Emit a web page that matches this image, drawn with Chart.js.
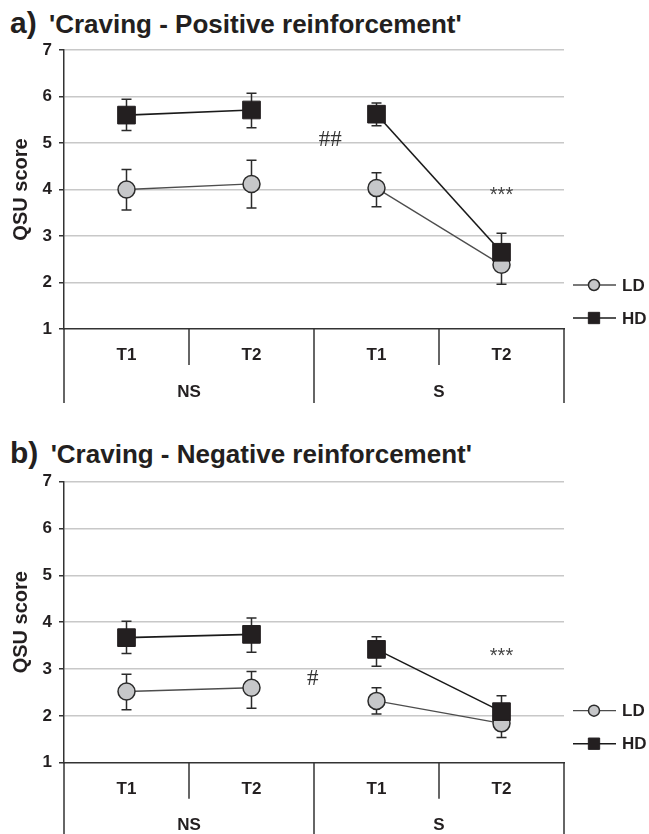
<!DOCTYPE html>
<html>
<head>
<meta charset="utf-8">
<script src="https://cdn.jsdelivr.net/npm/chart.js@4.4.1/dist/chart.umd.min.js"></script>
<style>
  html, body { margin: 0; padding: 0; background: #fff; }
  body { width: 649px; height: 834px; position: relative; overflow: hidden; }
  .title { position: absolute; left: 10px; font-family: "Liberation Sans", Arial, sans-serif; font-weight: bold;
           color: #231f20; white-space: nowrap; font-size: 30px; line-height: 34px; }
  .title .txt { font-size: 26px; margin-left: 4px; }
  canvas { position: absolute; left: 0; }
</style>
</head>
<body>
<div class="title" style="top:5.6px">a) <span class="txt">'Craving - Positive reinforcement'</span></div>
<canvas id="chartA" width="649" height="420" style="top:0"></canvas>
<div class="title" style="top:435.6px">b) <span class="txt">'Craving - Negative reinforcement'</span></div>
<canvas id="chartB" width="649" height="414" style="top:420px"></canvas>
<script>
// categories
const timepoints = ['T1', 'T2', 'T1', 'T2'];
const conditions = ['NS', 'S'];
const seriesNames = ['LD', 'HD'];

// a) positive reinforcement: means and error bar ends
const ldPositive = [4.0, 4.12, 4.03, 2.38];
const ldPositiveHigh = [4.43, 4.63, 4.36, 2.8];
const ldPositiveLow = [3.56, 3.6, 3.63, 1.96];
const hdPositive = [5.6, 5.71, 5.62, 2.65];
const hdPositiveHigh = [5.94, 6.07, 5.86, 3.06];
const hdPositiveLow = [5.27, 5.33, 5.37, 2.25];
const positiveMarks = ['##', '***'];
const positiveMarkAt = [1.63, 3];
const positiveMarkLevel = [5.09, 3.97];

// b) negative reinforcement
const ldNegative = [2.52, 2.6, 2.32, 1.84];
const ldNegativeHigh = [2.89, 2.95, 2.6, 2.15];
const ldNegativeLow = [2.13, 2.16, 2.04, 1.54];
const hdNegative = [3.67, 3.74, 3.42, 2.09];
const hdNegativeHigh = [4.02, 4.09, 3.69, 2.43];
const hdNegativeLow = [3.33, 3.36, 3.06, 1.75];
const negativeMarks = ['#', '***'];
const negativeMarkAt = [1.49, 3];
const negativeMarkLevel = [2.81, 3.37];

const INK = '#231f20';
const SANS = '"Liberation Sans", Arial, sans-serif';

// error bars, x-axis dividers, group labels, marks and legend
const panelDecor = {
    id: 'panelDecor',
    beforeDatasetsDraw(chart) {
        const { ctx, scales: { x, y } } = chart;
        ctx.save();
        ctx.strokeStyle = '#2b2b2b';
        ctx.lineWidth = 1.5;
        chart.data.datasets.forEach(ds => {
            ds.data.forEach((v, i) => {
                const px = x.getPixelForValue(i);
                const top = y.getPixelForValue(ds.errHigh[i]);
                const bot = y.getPixelForValue(ds.errLow[i]);
                ctx.beginPath();
                ctx.moveTo(px, top); ctx.lineTo(px, bot);
                ctx.moveTo(px - 5, top); ctx.lineTo(px + 5, top);
                ctx.moveTo(px - 5, bot); ctx.lineTo(px + 5, bot);
                ctx.stroke();
            });
        });
        ctx.restore();
    },
    afterDraw(chart, args, o) {
        const { ctx, chartArea: area, scales: { x, y } } = chart;
        const base = area.bottom;
        ctx.save();

        ctx.strokeStyle = '#333';
        ctx.lineWidth = 1.5;
        for (let k = 0; k <= timepoints.length; k++) {
            const px = x.getPixelForValue(k - 0.5);
            const len = k % 2 === 0 ? o.groupRule : o.timeRule;
            ctx.beginPath();
            ctx.moveTo(px, base);
            ctx.lineTo(px, base + len);
            ctx.stroke();
        }

        ctx.fillStyle = INK;
        ctx.font = 'bold 17px ' + SANS;
        ctx.textAlign = 'center';
        ctx.textBaseline = 'middle';
        conditions.forEach((c, g) => {
            ctx.fillText(c, x.getPixelForValue(g * 2 + 0.5), base + o.groupGap);
        });

        o.marks.forEach((m, i) => {
            ctx.font = m === '#' || m === '##' ? '23px "Liberation Serif", serif' : '20px ' + SANS;
            ctx.fillStyle = m === '***' ? '#444' : '#333';
            ctx.textBaseline = 'alphabetic';
            const tm = ctx.measureText(m);
            const py = y.getPixelForValue(o.markLevel[i]);
            ctx.fillText(m, x.getPixelForValue(o.markAt[i]), py + (tm.actualBoundingBoxAscent - tm.actualBoundingBoxDescent) / 2);
        });

        chart.data.datasets.forEach((ds, i) => {
            const ly = base - o.legendRise[i];
            const lx = area.right + 9;
            ctx.strokeStyle = ds.borderColor;
            ctx.lineWidth = ds.borderWidth;
            ctx.beginPath();
            ctx.moveTo(lx, ly);
            ctx.lineTo(lx + 43, ly);
            ctx.stroke();
            ctx.fillStyle = ds.pointBackgroundColor;
            ctx.strokeStyle = ds.pointBorderColor;
            ctx.lineWidth = ds.pointBorderWidth;
            Chart.helpers.drawPoint(ctx, { pointStyle: ds.pointStyle, radius: o.legendRadius[i], borderWidth: ds.pointBorderWidth }, lx + 21, ly);
            ctx.fillStyle = INK;
            ctx.font = 'bold 17px ' + SANS;
            ctx.textAlign = 'left';
            ctx.textBaseline = 'middle';
            ctx.fillText(ds.label, lx + 49, ly + 1);
        });
        ctx.restore();
    }
};

function hideGap(ctx) {
    return ctx.p0DataIndex === 1 ? 'rgba(0,0,0,0)' : undefined;
}

function buildChart(canvasId, p) {
    return new Chart(document.getElementById(canvasId), {
        type: 'line',
        data: {
            labels: timepoints,
            datasets: [
                {
                    label: seriesNames[0],
                    data: p.ld, errHigh: p.ldHigh, errLow: p.ldLow,
                    order: 1,
                    borderColor: '#4d4d4d', borderWidth: 1.3,
                    pointStyle: 'circle', pointRadius: 8.5,
                    pointBackgroundColor: '#c6c7c9', pointBorderColor: '#2b2b2b', pointBorderWidth: 1.5,
                    segment: { borderColor: hideGap }
                },
                {
                    label: seriesNames[1],
                    data: p.hd, errHigh: p.hdHigh, errLow: p.hdLow,
                    order: 0,
                    borderColor: '#1a1a1a', borderWidth: 1.6,
                    pointStyle: 'rect', pointRadius: 12.5,
                    pointBackgroundColor: INK, pointBorderColor: INK, pointBorderWidth: 1,
                    segment: { borderColor: hideGap }
                }
            ]
        },
        options: {
            responsive: false,
            animation: false,
            events: [],
            layout: { padding: { left: 9, right: 85, top: p.top, bottom: 0 } },
            scales: {
                x: {
                    type: 'category',
                    offset: true,
                    grid: { display: false, drawTicks: false },
                    border: { color: '#333', width: 1.5 },
                    ticks: { color: INK, font: { family: SANS, size: 17, weight: 'bold' }, padding: 16, maxRotation: 0, autoSkip: false },
                    afterFit: s => { s.height = p.xHeight; }
                },
                y: {
                    min: 1, max: 7,
                    ticks: { stepSize: 1, color: INK, font: { family: SANS, size: 17, weight: 'bold' }, padding: 7 },
                    grid: {
                        color: c => (c.tick && c.tick.value === 1) ? 'rgba(0,0,0,0)' : '#c8c8c8',
                        lineWidth: 1.5, tickColor: '#333', tickLength: 5
                    },
                    border: { color: '#333', width: 1.5 },
                    title: { display: true, text: 'QSU score', color: INK, font: { family: SANS, size: 20, weight: 'bold' }, padding: 0 },
                    afterFit: s => { s.width = 55; }
                }
            },
            plugins: {
                legend: { display: false },
                tooltip: { enabled: false },
                panelDecor: {
                    timeRule: 36, groupRule: p.groupRule, groupGap: 63,
                    marks: p.marks, markAt: p.markAt, markLevel: p.markLevel,
                    legendRise: p.legendRise, legendRadius: [5.5, 8]
                }
            }
        },
        plugins: [panelDecor]
    });
}

buildChart('chartA', {
    ld: ldPositive, ldHigh: ldPositiveHigh, ldLow: ldPositiveLow,
    hd: hdPositive, hdHigh: hdPositiveHigh, hdLow: hdPositiveLow,
    marks: positiveMarks, markAt: positiveMarkAt, markLevel: positiveMarkLevel,
    top: 50, xHeight: 91, groupRule: 74, legendRise: [44, 11]
});

buildChart('chartB', {
    ld: ldNegative, ldHigh: ldNegativeHigh, ldLow: ldNegativeLow,
    hd: hdNegative, hdHigh: hdNegativeHigh, hdLow: hdNegativeLow,
    marks: negativeMarks, markAt: negativeMarkAt, markLevel: negativeMarkLevel,
    top: 61.7, xHeight: 71.3, groupRule: 72, legendRise: [52, 19]
});
</script>
</body>
</html>
